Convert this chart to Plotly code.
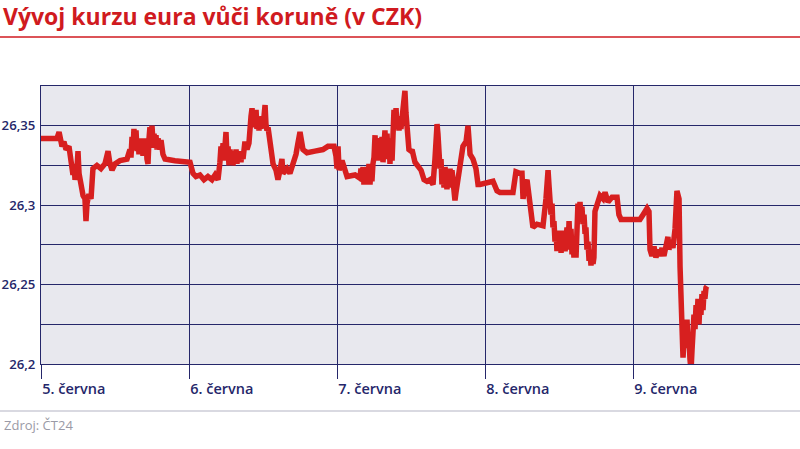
import plotly.graph_objects as go

# fractional day of June (5 = start of 5. června)
day = [5.000, 5.108, 5.122, 5.128, 5.142, 5.155, 5.169, 5.189, 5.196, 5.209,
       5.216, 5.223, 5.230, 5.243, 5.250, 5.257, 5.270, 5.284, 5.297, 5.304,
       5.311, 5.324, 5.338, 5.345, 5.351, 5.378, 5.405, 5.432, 5.453, 5.466,
       5.480, 5.500, 5.534, 5.581, 5.601, 5.608, 5.615, 5.622, 5.628, 5.635,
       5.642, 5.649, 5.655, 5.662, 5.669, 5.676, 5.682, 5.689, 5.696, 5.703,
       5.709, 5.716, 5.723, 5.730, 5.736, 5.743, 5.750, 5.757, 5.764, 5.770,
       5.777, 5.784, 5.791, 5.804, 5.811, 5.824, 5.838, 5.905, 5.986, 6.007,
       6.027, 6.047, 6.074, 6.101, 6.128, 6.155, 6.176, 6.196, 6.209, 6.216,
       6.223, 6.230, 6.236, 6.243, 6.250, 6.257, 6.264, 6.270, 6.277, 6.284,
       6.291, 6.297, 6.304, 6.311, 6.318, 6.324, 6.331, 6.338, 6.345, 6.351,
       6.358, 6.365, 6.378, 6.392, 6.405, 6.419, 6.426, 6.432, 6.439, 6.446,
       6.453, 6.459, 6.466, 6.473, 6.480, 6.486, 6.493, 6.500, 6.507, 6.514,
       6.520, 6.527, 6.534, 6.547, 6.568, 6.588, 6.601, 6.615, 6.628, 6.635,
       6.662, 6.682, 6.703, 6.723, 6.736, 6.750, 6.770, 6.797, 6.851, 6.905,
       6.939, 6.980, 6.993, 7.000, 7.007, 7.014, 7.034, 7.054, 7.068, 7.122,
       7.155, 7.162, 7.169, 7.176, 7.182, 7.189, 7.196, 7.203, 7.209, 7.216,
       7.223, 7.230, 7.236, 7.243, 7.250, 7.257, 7.264, 7.270, 7.277, 7.284,
       7.291, 7.297, 7.304, 7.311, 7.318, 7.324, 7.331, 7.338, 7.345, 7.351,
       7.358, 7.365, 7.372, 7.378, 7.385, 7.392, 7.399, 7.405, 7.412, 7.419,
       7.426, 7.432, 7.439, 7.446, 7.453, 7.459, 7.466, 7.473, 7.480, 7.486,
       7.500, 7.507, 7.527, 7.547, 7.568, 7.588, 7.608, 7.628, 7.649, 7.662,
       7.676, 7.682, 7.689, 7.696, 7.703, 7.709, 7.716, 7.723, 7.730, 7.736,
       7.743, 7.750, 7.757, 7.764, 7.770, 7.777, 7.784, 7.791, 7.797, 7.804,
       7.811, 7.831, 7.851, 7.872, 7.885, 7.899, 7.919, 7.939, 7.953, 7.966,
       8.054, 8.081, 8.101, 8.189, 8.203, 8.209, 8.236, 8.250, 8.257, 8.270,
       8.284, 8.297, 8.311, 8.324, 8.351, 8.392, 8.412, 8.419, 8.426, 8.432,
       8.439, 8.446, 8.453, 8.459, 8.466, 8.473, 8.480, 8.486, 8.493, 8.500,
       8.507, 8.514, 8.520, 8.527, 8.534, 8.541, 8.547, 8.554, 8.561, 8.568,
       8.574, 8.581, 8.588, 8.595, 8.601, 8.608, 8.615, 8.622, 8.628, 8.635,
       8.642, 8.649, 8.655, 8.662, 8.669, 8.676, 8.682, 8.689, 8.696, 8.703,
       8.709, 8.716, 8.723, 8.730, 8.736, 8.743, 8.764, 8.777, 8.797, 8.811,
       8.831, 8.858, 8.892, 8.905, 8.919, 9.047, 9.068, 9.095, 9.108, 9.115,
       9.128, 9.142, 9.155, 9.169, 9.182, 9.196, 9.209, 9.223, 9.236, 9.243,
       9.257, 9.270, 9.284, 9.297, 9.311, 9.318, 9.324, 9.331, 9.338, 9.345,
       9.351, 9.358, 9.365, 9.372, 9.378, 9.385, 9.392, 9.399, 9.405, 9.412,
       9.419, 9.426, 9.432, 9.439, 9.446, 9.453, 9.459, 9.466, 9.473, 9.480,
       9.486, 9.493, 9.500]

rate = [26.342, 26.342, 26.346, 26.342, 26.337, 26.340, 26.335, 26.337, 26.332, 26.327,
        26.319, 26.326, 26.316, 26.323, 26.334, 26.320, 26.310, 26.306, 26.304, 26.290,
        26.301, 26.307, 26.304, 26.313, 26.323, 26.325, 26.323, 26.326, 26.334, 26.326,
        26.322, 26.326, 26.328, 26.329, 26.335, 26.330, 26.343, 26.335, 26.348, 26.336,
        26.347, 26.334, 26.342, 26.332, 26.341, 26.335, 26.342, 26.331, 26.341, 26.334,
        26.342, 26.329, 26.326, 26.342, 26.349, 26.336, 26.350, 26.339, 26.345, 26.336,
        26.344, 26.335, 26.342, 26.335, 26.341, 26.332, 26.329, 26.328, 26.327, 26.327,
        26.320, 26.318, 26.319, 26.316, 26.318, 26.316, 26.319, 26.316, 26.327, 26.337,
        26.329, 26.339, 26.328, 26.335, 26.346, 26.330, 26.337, 26.325, 26.335, 26.327,
        26.334, 26.325, 26.333, 26.328, 26.335, 26.326, 26.334, 26.327, 26.332, 26.327,
        26.334, 26.329, 26.340, 26.335, 26.339, 26.356, 26.361, 26.351, 26.360, 26.349,
        26.360, 26.348, 26.353, 26.347, 26.354, 26.348, 26.356, 26.349, 26.361, 26.363,
        26.351, 26.347, 26.349, 26.339, 26.326, 26.322, 26.316, 26.322, 26.329, 26.320,
        26.323, 26.320, 26.326, 26.332, 26.339, 26.346, 26.335, 26.333, 26.334, 26.335,
        26.337, 26.337, 26.331, 26.323, 26.337, 26.322, 26.328, 26.320, 26.318, 26.319,
        26.317, 26.323, 26.315, 26.324, 26.313, 26.322, 26.313, 26.324, 26.315, 26.326,
        26.313, 26.323, 26.315, 26.326, 26.330, 26.344, 26.329, 26.342, 26.328, 26.339,
        26.342, 26.328, 26.343, 26.327, 26.342, 26.347, 26.330, 26.345, 26.329, 26.342,
        26.326, 26.342, 26.328, 26.348, 26.360, 26.350, 26.361, 26.348, 26.354, 26.347,
        26.356, 26.348, 26.353, 26.360, 26.367, 26.372, 26.358, 26.348, 26.342, 26.335,
        26.334, 26.335, 26.327, 26.324, 26.322, 26.316, 26.315, 26.316, 26.313, 26.329,
        26.351, 26.345, 26.335, 26.323, 26.329, 26.313, 26.323, 26.311, 26.324, 26.313,
        26.310, 26.322, 26.313, 26.323, 26.311, 26.322, 26.310, 26.307, 26.303, 26.308,
        26.313, 26.326, 26.337, 26.340, 26.350, 26.332, 26.329, 26.323, 26.313, 26.313,
        26.315, 26.309, 26.308, 26.308, 26.316, 26.321, 26.320, 26.320, 26.304, 26.313,
        26.316, 26.304, 26.293, 26.286, 26.288, 26.287, 26.304, 26.319, 26.322, 26.313,
        26.306, 26.294, 26.301, 26.286, 26.290, 26.277, 26.284, 26.271, 26.282, 26.272,
        26.284, 26.270, 26.280, 26.272, 26.284, 26.271, 26.282, 26.286, 26.272, 26.290,
        26.275, 26.285, 26.269, 26.277, 26.267, 26.275, 26.267, 26.285, 26.301, 26.294,
        26.302, 26.291, 26.299, 26.288, 26.294, 26.282, 26.286, 26.272, 26.277, 26.265,
        26.272, 26.262, 26.269, 26.263, 26.267, 26.296, 26.301, 26.306, 26.304, 26.308,
        26.302, 26.305, 26.305, 26.294, 26.291, 26.291, 26.294, 26.298, 26.296, 26.272,
        26.268, 26.274, 26.267, 26.272, 26.268, 26.273, 26.268, 26.275, 26.280, 26.272,
        26.278, 26.273, 26.285, 26.309, 26.304, 26.261, 26.246, 26.242, 26.204, 26.215,
        26.225, 26.212, 26.228, 26.210, 26.218, 26.203, 26.196, 26.209, 26.215, 26.231,
        26.222, 26.237, 26.228, 26.241, 26.225, 26.241, 26.231, 26.244, 26.234, 26.246,
        26.241, 26.248, 26.249]

assert len(day) == len(rate)

tick_days = [5, 6, 7, 8, 9]
tick_labels = ["5. června", "6. června", "7. června", "8. června", "9. června"]
y_ticks = [26.2, 26.25, 26.3, 26.35]

NAVY = "#25276a"
RED = "#d71f1f"

fig = go.Figure()
fig.add_trace(go.Scatter(
    x=day, y=rate, mode="lines",
    line=dict(color=RED, width=5.5, shape="linear"),
    hoverinfo="skip", showlegend=False, cliponaxis=False,
))

fig.update_layout(
    width=800, height=449,
    margin=dict(l=41, r=0, t=86, b=85, autoexpand=False),
    paper_bgcolor="white",
    plot_bgcolor="#e8e8ee",
    separators=", ",
    font=dict(family="Open Sans", color=NAVY),
    title=dict(
        text="<b>Vývoj kurzu eura vůči koruně (v CZK)</b>",
        font=dict(family="Open Sans", size=23, color="#d01a20"),
        xref="container", yref="container",
        x=3/800, xanchor="left", y=1-17/449, yanchor="middle",
    ),
    xaxis=dict(
        range=[5, 5 + 759/148],
        tickvals=tick_days, ticktext=tick_labels,
        ticks="outside", ticklen=14, tickcolor=NAVY, tickwidth=1,
        ticklabelposition="outside right", ticklabelstandoff=11,
        tickfont=dict(family="Open Sans", size=14.5, color=NAVY, weight=600),
        showgrid=True, gridcolor=NAVY, gridwidth=0.8,
        showline=True, mirror=True, linecolor=NAVY, linewidth=1.3,
        zeroline=False, fixedrange=True, automargin=False,
    ),
    yaxis=dict(
        range=[26.2, 26.375],
        tickvals=y_ticks,
        ticks="", ticklabelstandoff=2,
        tickfont=dict(family="Open Sans", size=13.2, color=NAVY, weight=600),
        showgrid=True, gridcolor=NAVY, gridwidth=1.3,
        minor=dict(dtick=0.025, tick0=26.2, showgrid=True, gridcolor=NAVY, gridwidth=1.3),
        showline=True, linecolor=NAVY, linewidth=1,
        zeroline=False, fixedrange=True, automargin=False,
    ),
    shapes=[
        dict(type="line", xref="paper", yref="paper",
             x0=-41/759, x1=1, y0=(364-37)/278, y1=(364-37)/278,
             line=dict(color="#d01a20", width=1.5)),
        dict(type="line", xref="paper", yref="paper",
             x0=-41/759, x1=1, y0=(364-411)/278, y1=(364-411)/278,
             line=dict(color="#b4b4c4", width=1.2)),
    ],
    annotations=[
        dict(text="Zdroj: ČT24", xref="paper", yref="paper",
             x=-39/759, y=(364-425)/278, xanchor="left", yanchor="middle",
             showarrow=False, font=dict(family="Open Sans", size=13, color="#9a9aa6")),
    ],
)

fig.write_html("out.html", config={"displayModeBar": False},
               post_script="document.body.style.margin='0';")
